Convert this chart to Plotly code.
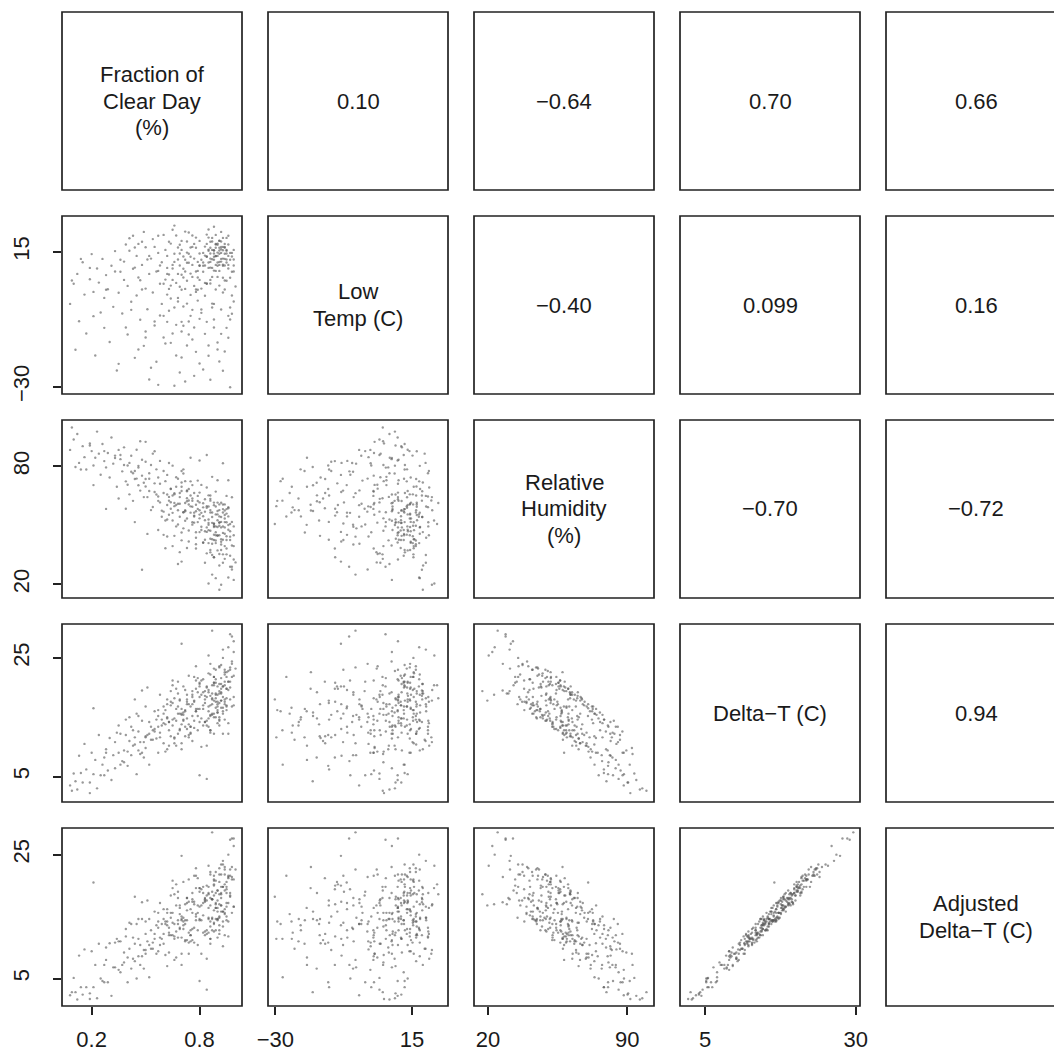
import plotly.graph_objects as go

# ---------------- data ----------------
clear_day = [
    0.08, 0.10, 0.12, 0.13, 0.15, 0.16, 0.17, 0.19, 0.20, 0.21,
    0.22, 0.23, 0.24, 0.25, 0.26, 0.27, 0.28, 0.29, 0.30, 0.31,
    0.32, 0.33, 0.34, 0.35, 0.21, 0.11, 0.14, 0.09, 0.36, 0.37,
    0.38, 0.39, 0.40, 0.40, 0.41, 0.42, 0.43, 0.44, 0.45, 0.45,
    0.46, 0.47, 0.48, 0.48, 0.49, 0.50, 0.50, 0.51, 0.52, 0.52,
    0.53, 0.54, 0.54, 0.55, 0.56, 0.56, 0.57, 0.58, 0.58, 0.59,
    0.60, 0.60, 0.28, 0.35, 0.46, 0.53, 0.57, 0.44, 0.49, 0.55,
    0.39, 0.47, 0.51, 0.59, 0.43, 0.57, 0.50, 0.41, 0.61, 0.62,
    0.62, 0.63, 0.64, 0.64, 0.65, 0.65, 0.66, 0.66, 0.67, 0.67,
    0.68, 0.68, 0.69, 0.69, 0.70, 0.70, 0.71, 0.71, 0.72, 0.72,
    0.73, 0.73, 0.74, 0.74, 0.75, 0.75, 0.76, 0.76, 0.77, 0.77,
    0.78, 0.78, 0.79, 0.79, 0.80, 0.80, 0.61, 0.63, 0.65, 0.67,
    0.69, 0.70, 0.72, 0.74, 0.76, 0.78, 0.62, 0.64, 0.66, 0.68,
    0.71, 0.73, 0.75, 0.77, 0.79, 0.63, 0.67, 0.70, 0.73, 0.76,
    0.80, 0.61, 0.68, 0.72, 0.75, 0.78, 0.64, 0.69, 0.74, 0.79,
    0.66, 0.71, 0.77, 0.62, 0.80, 0.73, 0.70, 0.76, 0.81, 0.81,
    0.82, 0.82, 0.83, 0.83, 0.84, 0.84, 0.85, 0.85, 0.85, 0.86,
    0.86, 0.86, 0.87, 0.87, 0.87, 0.88, 0.88, 0.88, 0.89, 0.89,
    0.89, 0.90, 0.90, 0.90, 0.91, 0.91, 0.91, 0.92, 0.92, 0.92,
    0.93, 0.93, 0.93, 0.94, 0.94, 0.94, 0.95, 0.95, 0.95, 0.96,
    0.96, 0.96, 0.97, 0.97, 0.97, 0.98, 0.98, 0.98, 0.99, 0.99,
    1.00, 0.84, 0.86, 0.88, 0.90, 0.92, 0.94, 0.95, 0.91, 0.85,
    0.89, 0.83, 0.81, 0.87, 0.80, 0.84, 0.93, 0.96, 0.98, 0.99,
    0.86, 0.88, 0.90, 0.92, 0.94, 0.91, 0.89, 0.87, 0.93, 0.95,
    0.82, 0.85, 0.91, 0.96, 0.83, 0.88, 0.70, 0.87, 0.78, 0.65,
    0.60, 0.95, 0.97, 0.99, 0.93, 0.86, 0.90, 0.84, 0.92, 0.94,
    0.88, 0.91, 0.86, 0.93, 0.89, 0.84, 0.95, 0.90, 0.87, 0.92,
    0.85, 0.94, 0.88, 0.91, 0.83, 0.96, 0.89, 0.92, 0.86, 0.94,
    0.90, 0.87, 0.93, 0.82, 0.97, 0.88, 0.91, 0.85, 0.95, 0.89,
    0.78, 0.81, 0.74, 0.84, 0.79, 0.92, 0.76, 0.83, 0.97, 0.86,
    0.72, 0.90, 0.80, 0.94, 0.77, 0.98, 0.85, 0.69, 0.88, 0.93,
    0.75, 0.82, 0.96, 0.71, 0.89, 0.66, 0.80, 0.99, 0.73, 0.91,
    0.58, 0.48, 0.63, 0.38, 0.55, 0.27, 0.44, 0.60, 0.33, 0.52,
    0.65, 0.42, 0.19, 0.57, 0.68, 0.36, 0.50, 0.62, 0.46, 0.70,
]
low_temp = [
    -2.4, 4.3, 7.6, -8.2, 11.5, 0.7, -12.3, 5.8, 14.2, 1.6,
    -19.6, 9.4, 4.7, -5.3, 12.6, -10.4, 7.2, 2.5, -15.1, 10.3,
    -3.4, 15.2, -24.6, 1.3, -6.5, -17.7, 12.6, 5.4, 8.3, -5.6,
    11.7, 17.4, -12.6, 3.6, 19.5, -1.7, 9.3, -20.4, 13.6, 0.4,
    6.4, -7.7, 18.3, 10.6, -16.4, 2.7, 16.5, -4.2, 7.6, -27.6,
    12.7, 1.4, 19.2, -9.6, 8.4, -21.7, 14.6, 4.3, -6.3, 11.5,
    20.6, -13.6, 2.3, -22.4, -17.6, -23.7, -29.4, 9.7, 21.6, 16.6,
    -10.3, 5.5, 12.4, -2.4, 20.3, 8.6, -11.6, 15.3, 5.7, 13.6,
    -8.4, 2.6, 17.7, -15.4, 9.4, 22.3, -3.6, 11.6, 4.6, -19.6,
    16.4, -0.4, 10.4, -25.3, 18.6, 7.3, -9.7, 13.4, 2.6, -28.3,
    14.7, -2.3, 11.3, 21.4, -6.4, 7.7, 16.6, -14.3, 3.6, 12.7,
    -18.4, 19.7, 8.6, -1.3, 14.4, -22.3, 15.6, -4.7, 10.6, 20.4,
    3.3, -11.6, 8.4, -8.3, 6.6, 16.3, 9.6, -0.6, 23.7, 12.4,
    -3.3, 18.4, 0.6, -26.4, 11.6, 7.4, -9.4, 15.6, 5.3, -4.4,
    10.4, -15.6, 7.6, 21.7, 13.3, 1.6, 3.7, 17.3, -12.6, 6.4,
    -29.7, 9.3, 17.6, 0.7, -7.4, 11.3, -20.3, 10.6, 12.3, -5.4,
    14.6, 8.3, 16.7, -12.4, 13.4, 4.4, 15.7, 9.6, -19.7, 14.4,
    18.3, 5.6, 12.5, -2.3, 19.6, 15.4, 8.7, -7.6, 16.3, 10.6,
    2.4, 13.6, 17.3, -15.3, 14.3, 8.6, 18.7, 11.7, -4.3, 16.6,
    10.3, 15.5, -24.7, 12.6, 5.4, 17.6, 11.4, 14.4, -10.4, 17.4,
    9.4, 20.3, 12.3, -30.2, 6.3, 14.6, 0.4, -5.7, 8.4, 15.6,
    3.4, 20.7, -27.7, 23.3, 6.6, 21.6, -18.3, 19.6, 18.6, 22.4,
    17.6, 10.4, 2.7, 6.6, 10.3, 4.3, 1.4, 10.6, 13.4, -1.6,
    9.7, 13.3, 11.4, 14.6, 10.4, 16.3, 13.6, 15.6, 12.7, 15.3,
    -24.3, -16.3, -21.6, -13.7, 4.6, -10.3, -8.4, -3.6, 2.4, 5.6,
    -6.4, 5.3, -7.6, 10.4, 19.6, 11.6, 14.7, 17.6, 18.4, 16.3,
    14.4, 11.6, 16.3, 10.7, 17.4, 13.3, 15.6, 10.3, 18.4, 12.6,
    11.4, 16.6, 12.3, 15.4, 13.7, 13.6, 8.6, 15.8, 12.7, 14.3,
    17.7, 9.6, 16.6, 11.4, 14.6, 15.5, 10.6, 15.3, 12.4, 13.5,
    8.4, -4.3, 14.3, -8.4, 2.3, -12.4, 20.4, 0.3, -3.6, 4.4,
    12.3, -17.6, 18.6, 2.4, -10.3, 8.3, 19.7, 14.4, -2.4, 6.3,
    16.4, 10.3, -6.4, 6.4, 20.6, 14.3, 5.6, 12.4, -16.3, 3.7,
    10.4, 2.4, 18.3, 5.6, -8.3, -0.4, 16.4, 4.3, 8.4, 13.6,
    -12.3, -4.4, 9.6, 20.3, -1.6, 12.3, -13.6, 7.6, 17.6, 2.3,
]
humidity = [
    88.3, 93.6, 96.4, 81.7, 90.2, 84.6, 78.3, 91.6, 87.7, 80.4,
    84.3, 97.6, 86.4, 75.7, 91.3, 82.6, 79.4, 86.7, 74.3, 94.6,
    81.3, 85.4, 69.6, 88.3, 70.4, 79.6, 78.3, 99.7, 83.6, 77.4,
    89.6, 72.3, 80.4, 70.6, 81.7, 85.3, 62.4, 77.6, 88.4, 73.7,
    79.3, 67.6, 27.4, 83.3, 71.6, 92.4, 69.7, 64.3, 76.4, 73.6,
    80.6, 59.3, 86.4, 71.3, 65.6, 78.4, 74.3, 61.6, 82.7, 57.4,
    77.6, 66.4, 58.3, 63.6, 70.3, 57.7, 62.4, 51.6, 64.3, 87.6,
    58.4, 92.7, 45.6, 54.3, 76.4, 47.6, 82.3, 65.7, 72.4, 60.3,
    75.6, 55.3, 68.4, 61.7, 80.3, 52.4, 66.3, 44.6, 74.4, 69.6,
    57.6, 50.4, 64.3, 66.4, 71.7, 42.3, 56.6, 78.4, 61.3, 72.4,
    53.4, 67.7, 47.3, 62.6, 56.4, 84.3, 59.4, 63.6, 51.3, 66.4,
    60.4, 43.6, 58.3, 72.7, 55.4, 57.6, 38.3, 81.6, 56.3, 49.4,
    36.3, 77.6, 52.3, 41.7, 70.4, 40.3, 65.6, 58.4, 61.3, 73.6,
    48.4, 67.3, 59.6, 54.4, 62.3, 64.4, 60.3, 69.6, 63.7, 50.3,
    66.6, 52.4, 30.3, 57.6, 72.3, 46.4, 68.6, 54.3, 68.4, 51.6,
    59.7, 76.3, 56.4, 44.3, 61.6, 38.4, 46.3, 62.4, 47.6, 56.3,
    41.1, 61.2, 52.5, 42.6, 58.9, 35.7, 47.5, 52.9, 50.2, 37.4,
    65.1, 47.2, 56.5, 40.6, 34.9, 49.7, 61.5, 50.9, 42.2, 46.4,
    67.1, 37.2, 55.5, 44.6, 44.9, 57.7, 29.5, 48.9, 40.2, 61.4,
    46.1, 35.2, 56.5, 51.6, 32.9, 45.7, 42.5, 55.9, 38.2, 23.4,
    50.1, 59.2, 34.5, 50.6, 28.9, 51.7, 27.5, 28.9, 22.2, 39.4,
    31.1, 69.2, 62.5, 50.6, 72.9, 19.7, 57.5, 64.9, 17.2, 20.4,
    23.1, 63.2, 70.5, 74.6, 82.9, 85.7, 81.5, 72.9, 64.2, 49.4,
    43.1, 45.2, 52.5, 41.6, 48.9, 49.7, 55.5, 42.9, 58.2, 44.4,
    59.1, 65.2, 54.5, 58.6, 30.9, 33.7, 31.5, 24.9, 38.2, 39.4,
    45.1, 35.2, 42.5, 32.6, 30.9, 57.7, 61.5, 48.9, 54.2, 39.4,
    49.1, 51.2, 56.5, 42.6, 40.9, 59.7, 51.5, 44.9, 54.2, 37.4,
    51.1, 55.2, 42.5, 60.6, 46.9, 47.7, 59.5, 42.9, 36.2, 53.4,
    49.1, 51.2, 60.5, 54.6, 46.9, 33.7, 51.5, 40.9, 58.2, 49.4,
    57.1, 49.2, 60.5, 46.6, 64.9, 51.7, 51.5, 56.9, 44.2, 63.4,
    57.1, 57.2, 46.5, 60.6, 54.9, 39.7, 59.5, 60.9, 60.2, 49.4,
    65.1, 41.2, 54.5, 56.6, 44.9, 65.7, 53.5, 44.9, 62.2, 35.4,
    71.1, 75.2, 62.5, 80.6, 66.9, 87.7, 73.5, 56.9, 84.2, 67.4,
    65.1, 77.2, 90.5, 64.6, 60.9, 85.7, 73.5, 52.9, 80.2, 67.4,
]
delta_t = [
    3.5, 5.5, 2.8, 8.5, 4.0, 10.5, 6.2, 2.2, 9.0, 5.4,
    7.8, 3.0, 12.0, 5.2, 7.0, 8.2, 9.6, 6.0, 11.5, 4.4,
    8.6, 10.8, 12.4, 9.0, 16.5, 4.2, 5.6, 2.6, 12.2, 7.6,
    9.4, 14.6, 6.8, 9.2, 11.0, 13.4, 10.2, 11.6, 5.4, 15.6,
    12.6, 10.8, 19.5, 14.4, 8.2, 9.8, 16.8, 12.0, 14.2, 7.0,
    13.4, 12.8, 11.2, 16.0, 11.4, 14.6, 9.0, 18.8, 12.4, 13.6,
    14.0, 10.6, 9.0, 13.6, 15.2, 11.2, 16.2, 18.0, 10.8, 12.6,
    12.0, 8.8, 20.0, 14.6, 12.8, 15.2, 11.6, 15.0, 9.2, 18.0,
    14.8, 12.8, 17.0, 11.8, 13.6, 20.4, 10.6, 14.8, 16.4, 10.2,
    12.2, 21.0, 17.8, 15.6, 9.6, 15.6, 20.2, 14.6, 11.8, 16.0,
    13.0, 17.2, 22.0, 11.6, 13.4, 13.4, 19.4, 11.0, 14.4, 17.8,
    19.8, 16.0, 12.8, 16.4, 20.8, 14.2, 16.2, 14.2, 21.2, 14.4,
    18.0, 15.4, 13.4, 17.2, 17.2, 23.6, 9.6, 19.4, 18.2, 15.6,
    15.4, 18.0, 12.4, 21.8, 19.2, 10.2, 19.8, 10.6, 18.8, 15.2,
    18.4, 13.8, 19.0, 19.6, 16.8, 16.4, 17.6, 13.0, 12.0, 21.6,
    11.6, 15.8, 13.2, 15.0, 20.2, 17.6, 16.4, 18.8, 14.8, 21.2,
    16.4, 19.2, 14.2, 17.4, 20.0, 18.4, 22.4, 13.4, 16.0, 24.0,
    18.6, 15.4, 20.4, 18.0, 17.2, 21.8, 12.2, 15.6, 23.0, 15.0,
    18.2, 17.6, 20.2, 17.2, 23.4, 13.6, 19.0, 21.6, 19.2, 19.0,
    16.0, 25.0, 16.6, 21.0, 20.4, 22.2, 17.0, 19.8, 19.8, 26.8,
    22.8, 12.2, 21.0, 18.0, 29.0, 21.8, 24.0, 28.6, 26.0, 18.4,
    23.2, 10.2, 12.8, 20.4, 16.8, 17.8, 22.6, 18.2, 19.4, 25.4,
    18.8, 18.0, 10.0, 15.4, 5.2, 4.6, 12.2, 14.0, 16.8, 17.0,
    17.0, 23.2, 14.0, 16.6, 23.0, 14.6, 20.8, 15.6, 20.2, 16.2,
    13.6, 19.2, 15.0, 21.0, 19.4, 20.8, 27.4, 29.6, 21.2, 17.4,
    16.8, 21.8, 23.0, 27.8, 26.4, 12.4, 18.8, 14.4, 20.6, 17.6,
    17.8, 20.6, 15.2, 18.4, 21.4, 13.6, 22.6, 16.2, 19.0, 23.8,
    14.8, 17.2, 20.8, 14.4, 18.6, 21.0, 16.6, 19.8, 22.2, 18.0,
    15.8, 18.2, 15.6, 17.0, 20.0, 21.8, 17.4, 19.6, 16.8, 19.0,
    16.0, 18.8, 13.8, 20.2, 15.2, 17.8, 18.4, 14.2, 23.4, 12.8,
    16.2, 15.8, 20.6, 14.6, 17.6, 24.4, 16.8, 12.8, 15.0, 20.2,
    12.2, 21.4, 19.6, 14.4, 17.6, 11.4, 16.4, 22.0, 14.8, 23.6,
    11.6, 9.0, 14.2, 7.4, 13.0, 5.2, 10.4, 15.6, 6.4, 12.2,
    14.6, 8.6, 4.0, 13.4, 16.8, 7.0, 11.8, 17.2, 9.4, 13.8,
]
adj_delta_t = [
    2.3, 5.1, 1.6, 8.7, 2.4, 9.7, 3.6, 1.7, 9.4, 3.6,
    7.2, 1.8, 10.6, 5.0, 4.6, 7.2, 10.0, 4.4, 10.7, 2.2,
    6.8, 10.8, 11.4, 6.4, 20.5, 2.8, 3.6, 2.8, 11.0, 7.2,
    9.2, 13.0, 4.4, 8.4, 9.8, 13.8, 8.2, 10.6, 5.0, 13.8,
    11.4, 10.4, 17.3, 14.6, 6.6, 9.0, 14.2, 11.0, 14.6, 5.2,
    12.8, 10.8, 9.8, 15.8, 9.0, 13.6, 9.4, 17.2, 11.6, 11.4,
    12.2, 10.6, 8.0, 11.0, 14.6, 9.8, 14.2, 18.2, 9.6, 12.2,
    11.8, 7.2, 17.6, 13.8, 11.6, 15.6, 9.6, 14.0, 8.8, 16.2,
    13.6, 12.4, 14.8, 12.0, 12.0, 19.6, 8.0, 13.8, 16.8, 8.4,
    11.6, 19.0, 16.4, 15.4, 7.2, 14.6, 20.6, 13.0, 11.0, 13.8,
    11.2, 17.2, 21.0, 9.0, 12.8, 12.0, 17.4, 11.2, 13.2, 17.4,
    19.6, 14.4, 10.4, 15.6, 19.6, 14.6, 14.2, 13.2, 20.8, 12.6,
    16.8, 15.0, 11.2, 17.4, 15.6, 22.8, 7.0, 18.4, 18.6, 13.8,
    14.8, 16.0, 11.0, 21.6, 16.8, 9.2, 20.2, 9.0, 18.0, 13.0,
    16.6, 13.8, 18.0, 17.0, 16.2, 15.0, 15.6, 13.2, 10.8, 21.2,
    11.4, 14.2, 10.8, 14.2, 19.0, 18.0, 14.4, 17.8, 14.4, 19.4,
    15.2, 18.8, 12.0, 17.6, 18.4, 17.6, 19.8, 12.4, 16.4, 22.2,
    18.0, 13.4, 19.0, 17.8, 14.8, 20.8, 12.6, 14.0, 22.2, 12.8,
    16.4, 17.6, 19.2, 14.6, 22.8, 12.2, 17.0, 21.8, 18.0, 18.6,
    15.8, 23.4, 14.2, 20.2, 19.2, 22.6, 15.0, 18.8, 19.4, 25.0,
    21.6, 11.8, 18.8, 18.2, 27.4, 21.0, 21.4, 27.6, 26.4, 16.6,
    22.6, 8.2, 11.4, 20.2, 14.4, 16.8, 23.0, 16.6, 18.6, 23.2,
    17.0, 18.0, 9.0, 12.8, 4.6, 3.2, 10.2, 14.2, 15.6, 16.6,
    16.8, 21.6, 11.6, 15.8, 21.8, 15.0, 18.8, 14.6, 19.8, 14.4,
    12.4, 18.8, 12.8, 21.2, 17.8, 20.0, 24.8, 28.6, 21.6, 15.6,
    16.2, 19.8, 21.6, 27.6, 24.0, 11.4, 19.2, 12.8, 19.8, 15.4,
    16.0, 20.6, 14.2, 15.8, 20.8, 12.2, 20.6, 16.4, 17.8, 23.4,
    14.6, 15.6, 18.4, 13.6, 17.4, 21.4, 14.6, 18.8, 21.8, 16.2,
    14.6, 17.8, 13.4, 17.2, 18.4, 21.0, 14.8, 18.6, 17.2, 17.2,
    15.4, 16.8, 12.4, 20.0, 12.8, 16.8, 18.8, 12.6, 22.6, 10.6,
    14.4, 15.8, 19.6, 12.0, 17.0, 23.0, 14.8, 13.0, 13.8, 19.8,
    12.0, 19.8, 17.2, 13.6, 16.4, 11.8, 14.4, 21.0, 14.4, 21.8,
    10.4, 8.6, 12.0, 7.6, 11.4, 4.4, 7.8, 14.6, 6.8, 10.4,
    14.0, 6.6, 2.6, 13.2, 14.4, 6.0, 12.2, 15.6, 8.6, 11.6,
]

var_labels = [
    ["Fraction of", "Clear Day", "(%)"],
    ["Low", "Temp (C)"],
    ["Relative", "Humidity", "(%)"],
    ["Delta\u2212T (C)"],
    ["Adjusted", "Delta\u2212T (C)"],
]
# correlation labels of the upper triangle, row by row
corr_labels = ["0.10", "\u22120.64", "0.70", "0.66",
               "\u22120.40", "0.099", "0.16",
               "\u22120.70", "\u22120.72",
               "0.94"]

x_tickvals = [[0.2, 0.8], [-30, 15], [20, 90], [5, 30]]
y_tickvals = {1: [-30, 15], 2: [20, 80], 3: [5, 25], 4: [5, 25]}

# ---------------- layout geometry ----------------
W, H = 1054, 1056
LEFT0, TOP0, DX, DY, PW, PH = 62, 12, 206, 204, 180, 178
LINE_GAP = 26.5
x_ranges = [[0.035, 1.036], [-32.45, 26.9], [13.0, 103.5], [0.85, 30.71], [0.56, 29.3]]
y_ranges = [None, [-32.45, 26.9], [13.0, 103.5], [0.7, 30.72], [0.56, 29.3]]

FONT = "Liberation Sans, Arial, Helvetica, sans-serif"
FS = 22
TXT = "#1a1a1a"
LINE = "#222222"

variables = [clear_day, low_temp, humidity, delta_t, adj_delta_t]


def fmt(v):
    return ("%g" % v).replace("-", "\u2212")


fig = go.Figure()
layout = dict(
    width=W, height=H,
    margin=dict(l=0, r=0, t=0, b=0, pad=0, autoexpand=False),
    paper_bgcolor="white", plot_bgcolor="white",
    showlegend=False,
    font=dict(family=FONT, size=FS, color=TXT),
)
shapes = []
annotations = []


def add_text(lines, cx_px, cy_px):
    n = len(lines)
    for m, line in enumerate(lines):
        ypx = cy_px + (m - (n - 1) / 2) * LINE_GAP
        annotations.append(dict(xref="paper", yref="paper",
                                x=cx_px / W, y=1 - ypx / H,
                                text=line, showarrow=False,
                                xanchor="center", yanchor="middle",
                                font=dict(size=FS, color=TXT, family=FONT)))


k = 0
ci = 0
for i in range(5):
    top = TOP0 + DY * i
    y0 = 1 - (top + PH) / H
    y1 = 1 - top / H
    for j in range(5):
        left = LEFT0 + DX * j
        x0 = left / W
        x1 = (left + PW) / W
        shapes.append(dict(type="rect", xref="paper", yref="paper",
                           x0=x0, x1=x1, y0=y0, y1=y1,
                           line=dict(color=LINE, width=1.7)))
        cxp = left + PW / 2
        cyp = top + PH / 2
        if i == j:
            add_text(var_labels[i], cxp, cyp)
        elif j > i:
            add_text([corr_labels[ci]], cxp, cyp)
            ci += 1
        else:
            k += 1
            xa = "xaxis" if k == 1 else "xaxis%d" % k
            ya = "yaxis" if k == 1 else "yaxis%d" % k
            xr = "x" if k == 1 else "x%d" % k
            yr = "y" if k == 1 else "y%d" % k
            show_x = (i == 4)
            show_y = (j == 0)
            layout[xa] = dict(
                domain=[x0, min(x1, 1.0)], range=x_ranges[j], anchor=yr,
                showgrid=False, zeroline=False, showline=False, automargin=False,
                ticks="outside" if show_x else "", ticklen=8, tickwidth=1.5,
                tickcolor=LINE, showticklabels=show_x,
                tickvals=x_tickvals[j] if show_x else [],
                ticktext=[fmt(v) for v in x_tickvals[j]] if show_x else [],
                tickfont=dict(size=FS, color=TXT, family=FONT),
                ticklabelstandoff=6, fixedrange=True,
            )
            layout[ya] = dict(
                domain=[y0, y1], range=y_ranges[i], anchor=xr,
                showgrid=False, zeroline=False, showline=False, automargin=False,
                ticks="outside" if show_y else "", ticklen=8, tickwidth=1.5,
                tickcolor=LINE, showticklabels=show_y,
                tickvals=y_tickvals[i] if show_y else [],
                ticktext=[fmt(v) for v in y_tickvals[i]] if show_y else [],
                tickangle=-90,
                tickfont=dict(size=FS, color=TXT, family=FONT),
                ticklabelstandoff=15, fixedrange=True,
            )
            fig.add_trace(go.Scatter(
                x=variables[j], y=variables[i], mode="markers",
                xaxis=xr, yaxis=yr, hoverinfo="skip",
                marker=dict(size=2.4, color="rgba(85,85,85,0.6)", line=dict(width=0)),
            ))

layout["shapes"] = shapes
layout["annotations"] = annotations
fig.update_layout(**layout)
fig.write_html("out.html", config={"responsive": False, "displayModeBar": False},
               post_script="document.body.style.margin='0px';")
